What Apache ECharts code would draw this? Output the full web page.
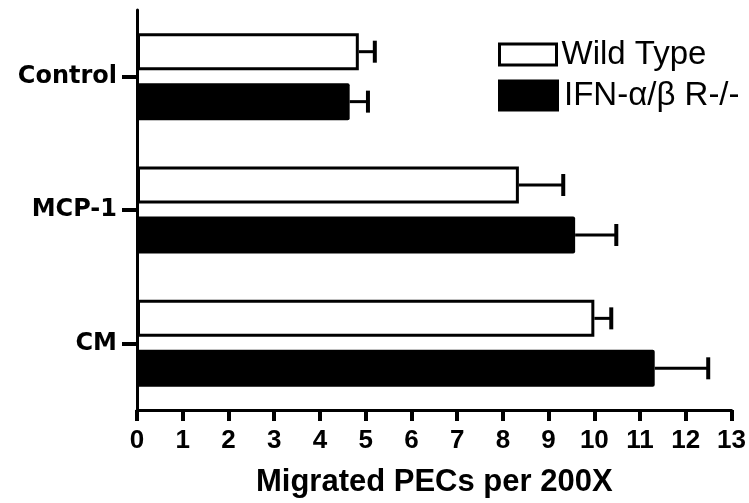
<!DOCTYPE html>
<html>
<head>
<meta charset="utf-8">
<title>Migrated PECs per 200X</title>
<script src="https://cdn.jsdelivr.net/npm/echarts@6/dist/echarts.min.js"></script>
<style>
  html, body { margin: 0; padding: 0; background: #fff; }
  #chart { width: 749px; height: 503px; }
</style>
</head>
<body>
<div id="chart"></div>
<script>
// Groups, top to bottom
var categories = ['Control', 'MCP-1', 'CM'];

// Series names
var seriesNames = ['Wild Type', 'IFN-α/β R-/-'];

// Mean migrated cells per 200X field
var wildType = [4.85, 8.35, 10.0];
var knockout = [4.65, 9.58, 11.32];

// Standard error (drawn to the right only)
var wildTypeErr = [0.35, 0.97, 0.37];
var knockoutErr = [0.4, 0.9, 1.17];

// X axis ticks
var xTicks = [0, 1, 2, 3, 4, 5, 6, 7, 8, 9, 10, 11, 12, 13];

// Bar geometry
var BAR_WIDTH = 37;
var BAR_GAP = 0.35;
var BAR_OFFSET = BAR_WIDTH * (1 + BAR_GAP) / 2;
var CAP_HALF = 11;

var errData = [];
categories.forEach(function (c, i) {
  errData.push([i, wildType[i], wildType[i] + wildTypeErr[i], -1]);
  errData.push([i, knockout[i], knockout[i] + knockoutErr[i], 1]);
});

var chart = echarts.init(document.getElementById('chart'), null, { renderer: 'canvas' });

var option = {
  backgroundColor: '#ffffff',
  animation: false,
  grid: { left: 137, right: 13, top: 10, bottom: 93, containLabel: false },
  legend: [
    {
      left: 498, top: 38, padding: 0,
      orient: 'vertical',
      selectedMode: false,
      itemWidth: 57, itemHeight: 21,
      textStyle: { fontFamily: 'Liberation Sans', fontSize: 33, color: '#000' },
      data: [{ name: seriesNames[0], icon: 'rect',
               itemStyle: { color: '#fff', borderColor: '#000', borderWidth: 3 } }]
    },
    {
      left: 498, top: 79, padding: 0,
      orient: 'vertical',
      selectedMode: false,
      itemWidth: 61, itemHeight: 32,
      textStyle: { fontFamily: 'Liberation Sans', fontSize: 33, color: '#000' },
      data: [{ name: seriesNames[1], icon: 'rect',
               itemStyle: { color: '#000', borderWidth: 0 } }]
    }
  ],
  xAxis: {
    type: 'value',
    min: xTicks[0],
    max: xTicks[xTicks.length - 1],
    interval: 1,
    name: 'Migrated PECs per 200X',
    nameLocation: 'middle',
    nameGap: 57,
    nameTextStyle: { fontFamily: 'Liberation Sans', fontWeight: 'bold', fontSize: 31, color: '#000' },
    axisLine: { show: true, lineStyle: { color: '#000', width: 3 } },
    axisTick: { show: true, length: 11, lineStyle: { color: '#000', width: 4 } },
    axisLabel: { margin: 18, fontFamily: 'Liberation Sans', fontWeight: 'bold', fontSize: 26, color: '#000' },
    splitLine: { show: false }
  },
  yAxis: {
    type: 'category',
    inverse: true,
    data: categories,
    axisLine: { show: true, lineStyle: { color: '#000', width: 3 } },
    axisTick: { show: true, alignWithLabel: true, length: 15, lineStyle: { color: '#000', width: 4 } },
    axisLabel: { margin: 20, fontFamily: 'DejaVu Sans', fontWeight: 'bold', fontSize: 24, color: '#000' },
    splitLine: { show: false }
  },
  series: [
    {
      name: seriesNames[0],
      type: 'bar',
      data: wildType,
      barWidth: BAR_WIDTH,
      barGap: (BAR_GAP * 100) + '%',
      itemStyle: { color: '#fff', borderColor: '#000', borderWidth: 3 },
      z: 2
    },
    {
      name: seriesNames[1],
      type: 'bar',
      data: knockout,
      barWidth: BAR_WIDTH,
      barGap: (BAR_GAP * 100) + '%',
      itemStyle: { color: '#000', borderRadius: 2 },
      z: 2
    },
    {
      name: 'error',
      type: 'custom',
      data: errData,
      encode: { x: [1, 2], y: 0 },
      z: 3,
      renderItem: function (params, api) {
        var c = api.value(0);
        var p0 = api.coord([api.value(1), c]);
        var p1 = api.coord([api.value(2), c]);
        var y = p0[1] + api.value(3) * BAR_OFFSET;
        return {
          type: 'group',
          children: [
            { type: 'line', shape: { x1: p0[0], y1: y, x2: p1[0], y2: y },
              style: { stroke: '#000', lineWidth: 3 } },
            { type: 'line', shape: { x1: p1[0], y1: y - CAP_HALF, x2: p1[0], y2: y + CAP_HALF },
              style: { stroke: '#000', lineWidth: 4 } }
          ]
        };
      }
    }
  ]
};

chart.setOption(option);
</script>
</body>
</html>
